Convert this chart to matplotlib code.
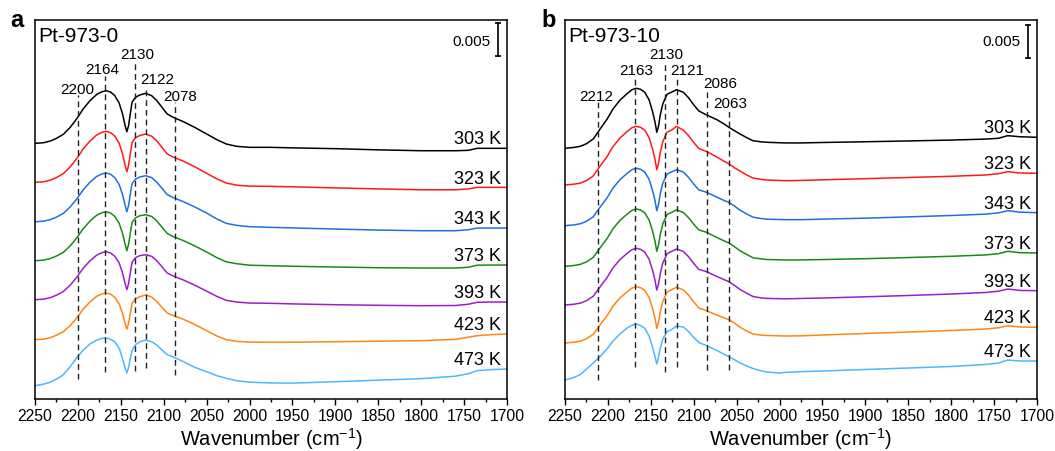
import numpy as np
import matplotlib.pyplot as plt
from matplotlib.ticker import MultipleLocator

plt.rcParams['font.family'] = ['Liberation Sans', 'DejaVu Sans']
plt.rcParams['mathtext.fontset'] = 'custom'
plt.rcParams['mathtext.rm'] = 'Liberation Sans'
plt.rcParams['mathtext.it'] = 'Liberation Sans:italic'

# Wavenumber grids (cm-1)
wn_a = [2250, 2240, 2232, 2225, 2217, 2209, 2201, 2194, 2186, 2178,
        2172, 2167, 2162, 2157, 2152, 2148, 2145, 2143, 2141, 2139,
        2137, 2133, 2128, 2121, 2114, 2108, 2102, 2096, 2089, 2077,
        2064, 2050, 2038, 2027, 2015, 2000, 1976, 1950, 1900, 1850,
        1800, 1760, 1745, 1735, 1720, 1700]
wn_b = [2250, 2240, 2232, 2225, 2217, 2209, 2201, 2194, 2186, 2178,
        2172, 2167, 2162, 2157, 2152, 2148, 2145, 2143, 2141, 2139,
        2136, 2131, 2126, 2120, 2112, 2106, 2100, 2094, 2085, 2073,
        2064, 2059, 2052, 2046, 2038, 2031, 2022, 2015, 2000, 1992,
        1976, 1950, 1900, 1850, 1800, 1760, 1745, 1734, 1720, 1700]

# Absorbance (1e-3 a.u.), relative to the first point of each trace
# Pt-973-0
a_303 = [0, 0.09, 0.35, 0.75, 1.35, 2.40, 3.75, 5.15, 6.39, 7.35,
         7.74, 7.89, 7.70, 7.14, 6.05, 4.40, 2.64, 1.74, 2.64, 4.40,
         6.15, 6.90, 7.25, 7.50, 7.14, 6.39, 5.40, 4.40, 3.90, 3.24,
         2.40, 1.40, 0.54, -0.11, -0.45, -0.60, -0.60, -0.68, -0.80, -0.98,
         -1.11, -1.11, -1.05, -0.75, -0.75, -0.75]
a_323 = [0, 0.09, 0.34, 0.73, 1.31, 2.33, 3.64, 5.00, 6.20, 7.13,
         7.51, 7.65, 7.47, 6.93, 5.87, 4.27, 2.56, 1.59, 2.56, 4.27,
         5.97, 6.69, 7.03, 7.25, 6.93, 6.20, 5.24, 4.27, 3.80, 3.18,
         2.35, 1.36, 0.52, -0.10, -0.42, -0.56, -0.60, -0.66, -0.83, -0.98,
         -1.11, -1.11, -0.98, -0.75, -0.75, -0.75]
a_343 = [0, 0.08, 0.32, 0.69, 1.25, 2.22, 3.47, 4.77, 5.92, 6.81,
         7.17, 7.31, 7.13, 6.61, 5.60, 4.07, 2.44, 1.50, 2.44, 4.07,
         5.69, 6.39, 6.71, 6.90, 6.61, 5.92, 5.00, 4.07, 3.61, 3.00,
         2.22, 1.30, 0.40, -0.25, -0.55, -0.75, -0.84, -0.93, -1.10, -1.25,
         -1.35, -1.35, -1.20, -0.95, -0.95, -0.95]
a_373 = [0, 0.08, 0.33, 0.70, 1.26, 2.23, 3.49, 4.79, 5.94, 6.84,
         7.20, 7.35, 7.16, 6.64, 5.63, 4.09, 2.46, 1.50, 2.46, 4.09,
         5.72, 6.42, 6.74, 6.90, 6.64, 5.94, 5.02, 4.09, 3.63, 3.01,
         2.23, 1.30, 0.45, -0.18, -0.45, -0.68, -0.75, -0.83, -0.95, -1.05,
         -1.10, -1.10, -0.98, -0.68, -0.65, -0.65]
a_393 = [0, 0.08, 0.32, 0.68, 1.23, 2.19, 3.42, 4.70, 5.83, 6.70,
         7.06, 7.20, 7.02, 6.51, 5.52, 4.01, 2.41, 1.50, 2.41, 4.01,
         5.61, 6.29, 6.61, 6.75, 6.51, 5.83, 4.92, 4.01, 3.56, 2.95,
         2.19, 1.28, 0.49, -0.10, -0.35, -0.50, -0.54, -0.63, -0.75, -0.84,
         -0.90, -0.87, -0.68, -0.39, -0.35, -0.35]
a_423 = [0, 0.08, 0.31, 0.67, 1.20, 2.13, 3.33, 4.57, 5.67, 6.53,
         6.87, 7.01, 6.84, 6.34, 5.37, 3.91, 2.40, 1.61, 2.40, 3.91,
         5.46, 6.13, 6.44, 6.71, 6.40, 5.70, 4.85, 4.00, 3.62, 3.05,
         2.30, 1.35, 0.55, 0.00, -0.25, -0.36, -0.39, -0.38, -0.30, -0.23,
         -0.15, 0.05, 0.38, 0.60, 0.75, 0.86]
a_473 = [0, 0.23, 0.53, 0.98, 1.65, 2.85, 4.26, 5.33, 6.26, 6.83,
         7.10, 7.16, 6.98, 6.57, 5.63, 4.05, 2.63, 1.91, 2.70, 4.13,
         5.25, 6.15, 6.57, 6.86, 6.60, 6.08, 5.33, 4.65, 4.32, 3.60,
         2.76, 2.10, 1.50, 1.10, 0.75, 0.53, 0.41, 0.38, 0.60, 0.83,
         1.05, 1.43, 1.80, 2.25, 2.40, 2.51]
# Pt-973-10
b_303 = [0, 0.12, 0.30, 0.68, 1.40, 2.90, 4.35, 5.90, 7.20, 8.15,
         8.78, 9.00, 8.85, 8.40, 7.28, 5.55, 3.90, 2.40, 3.30, 4.95,
         6.65, 8.10, 8.40, 8.79, 8.40, 7.58, 6.53, 5.60, 5.00, 4.29,
         3.60, 3.15, 2.60, 2.15, 1.58, 1.14, 0.98, 0.90, 0.83, 0.80,
         0.80, 0.87, 0.98, 1.10, 1.23, 1.38, 1.50, 1.89, 1.73, 1.65]
b_323 = [0, 0.12, 0.29, 0.66, 1.37, 2.84, 4.25, 5.77, 7.04, 7.97,
         8.59, 8.80, 8.66, 8.22, 7.12, 5.43, 3.81, 2.30, 3.23, 4.84,
         6.50, 7.92, 8.22, 8.80, 8.22, 7.41, 6.39, 5.48, 5.03, 4.20,
         3.52, 3.20, 2.54, 2.10, 1.50, 1.05, 0.85, 0.75, 0.68, 0.65,
         0.68, 0.78, 0.95, 1.13, 1.31, 1.50, 1.70, 2.00, 1.80, 1.76]
b_343 = [0, 0.11, 0.29, 0.65, 1.34, 2.78, 4.16, 5.65, 6.89, 7.80,
         8.40, 8.61, 8.47, 8.04, 6.97, 5.31, 3.73, 2.25, 3.16, 4.74,
         6.36, 7.75, 8.04, 8.40, 8.04, 7.25, 6.25, 5.36, 5.01, 4.28,
         3.75, 3.51, 2.90, 2.33, 1.75, 1.28, 1.08, 0.98, 0.92, 0.90,
         0.90, 0.98, 1.13, 1.32, 1.53, 1.73, 1.92, 2.25, 2.03, 1.95]
b_373 = [0, 0.11, 0.29, 0.65, 1.34, 2.77, 4.15, 5.63, 6.88, 7.78,
         8.38, 8.60, 8.45, 8.02, 6.95, 5.30, 3.72, 2.25, 3.15, 4.73,
         6.35, 7.78, 8.07, 8.45, 8.07, 7.30, 6.32, 5.45, 5.10, 4.32,
         3.78, 3.50, 2.90, 2.33, 1.76, 1.28, 1.12, 1.02, 0.97, 0.95,
         0.95, 1.01, 1.14, 1.31, 1.50, 1.70, 1.89, 2.25, 2.04, 2.00]
b_393 = [0, 0.11, 0.28, 0.64, 1.32, 2.74, 4.11, 5.58, 6.80, 7.70,
         8.30, 8.51, 8.36, 7.94, 6.88, 5.24, 3.69, 2.25, 3.12, 4.68,
         6.28, 7.70, 8.03, 8.40, 8.03, 7.25, 6.25, 5.35, 5.00, 4.28,
         3.78, 3.50, 2.90, 2.33, 1.76, 1.28, 1.08, 0.99, 0.95, 0.93,
         0.98, 1.05, 1.23, 1.43, 1.65, 1.88, 2.07, 2.40, 2.19, 2.15]
b_423 = [0, 0.11, 0.28, 0.64, 1.31, 2.72, 4.08, 5.53, 6.75, 7.64,
         8.24, 8.45, 8.30, 7.88, 6.83, 5.21, 3.66, 2.21, 3.10, 4.64,
         6.24, 7.65, 7.98, 8.36, 7.98, 7.18, 6.18, 5.25, 4.85, 4.20,
         3.75, 3.50, 2.95, 2.37, 1.80, 1.35, 1.20, 1.13, 1.08, 1.05,
         1.08, 1.20, 1.43, 1.65, 1.88, 2.10, 2.28, 2.60, 2.40, 2.36]
b_473 = [0, 0.35, 0.83, 1.62, 2.55, 3.53, 4.65, 5.85, 6.90, 7.76,
         8.22, 8.40, 8.18, 7.76, 6.60, 4.95, 3.45, 2.40, 3.45, 4.73,
         6.15, 7.28, 7.55, 8.10, 7.95, 7.28, 6.38, 5.63, 5.15, 4.43,
         3.83, 3.50, 3.00, 2.55, 2.10, 1.73, 1.40, 1.20, 1.05, 1.16,
         1.25, 1.35, 1.58, 1.80, 2.03, 2.33, 2.55, 3.00, 2.85, 2.85]

temps = ['303 K', '323 K', '343 K', '373 K', '393 K', '423 K', '473 K']
colors = ['#000000', '#ff1a1a', '#1f6fe0', '#178a17', '#9a1fc8', '#ff8514', '#4cb8ff']

# vertical stacking of the traces
offsets_a = [36.36, 30.5, 24.6, 18.75, 12.9, 6.9, 0.0]
offsets_b = [34.76, 29.25, 23.15, 17.06, 11.25, 5.55, 0.0]

# band marks: label text, where the dashed guide sits, its extent, label anchor
bands_a = ['2200', '2164', '2130', '2122', '2078']
guide_x_a = [2200, 2168, 2133, 2121, 2087]
guide_top_a = [43.6, 46.5, 48.5, 45.0, 42.5]
guide_bot_a = [1.0, 2.0, 2.2, 2.6, 1.6]
label_x_a = [2200.5, 2172, 2131, 2108, 2081]
label_y_a = [43.98, 46.9, 49.1, 45.4, 42.9]

bands_b = ['2212', '2163', '2130', '2121', '2086', '2063']
guide_x_b = [2211, 2168, 2133, 2119, 2084, 2059]
guide_top_b = [41.7, 45.45, 47.4, 45.45, 43.35, 40.35]
guide_bot_b = [0.0, 1.95, 1.2, 1.95, 1.5, 1.5]
label_x_b = [2213, 2166.5, 2131.5, 2108, 2069.4, 2057.7]
label_y_b = [42.05, 45.9, 48.26, 45.9, 43.9, 40.9]


def draw_panel(ax, wn, traces, offsets, bands, gx, gtop, gbot, lx, ly,
               title, ylim, bar_y0, bar_text_y):
    for y, off, c, t in zip(traces, offsets, colors, temps):
        y = np.asarray(y) + off
        ax.plot(wn, y, color=c, lw=1.1, solid_joinstyle='round')
        ax.annotate(t, xy=(wn[-1], y[-1]), xytext=(-4.5, 3.5),
                    textcoords='offset points', ha='right', va='baseline',
                    fontsize=13)

    for x, y0, y1 in zip(gx, gbot, gtop):
        ax.plot([x, x], [y0, y1], color='#222222', lw=1.0, ls=(0, (4.2, 2.8)))
    for s, x, y in zip(bands, lx, ly):
        ax.text(x, y, s, ha='center', va='baseline', fontsize=11)

    # 0.005 a.u. scale bar
    ax.plot([1710.5, 1710.5], [bar_y0, bar_y0 + 5], color='k', lw=1.2,
            marker='_', ms=5, mew=1.2)
    ax.text(1719.5, bar_text_y, '0.005', ha='right', va='baseline', fontsize=11)

    ax.text(0.007, 0.944, title, transform=ax.transAxes, ha='left',
            va='baseline', fontsize=15)

    ax.set_xlim(2250, 1700)
    ax.set_ylim(*ylim)
    ax.xaxis.set_major_locator(MultipleLocator(50))
    ax.xaxis.set_minor_locator(MultipleLocator(25))
    ax.tick_params(axis='x', which='major', direction='out', length=4.3,
                   width=1.0, labelsize=11.3, pad=2)
    ax.tick_params(axis='x', which='minor', direction='out', length=2.5, width=1.0)
    ax.set_yticks([])
    for sp in ax.spines.values():
        sp.set_linewidth(1.1)
    ax.set_xlabel('Wavenumber (cm$^{-1}$)', fontsize=14.5, labelpad=2)


fig = plt.figure(figsize=(10.55, 4.52), dpi=100)
ax_a = fig.add_axes([0.0332, 0.115, 0.4474, 0.8385])
ax_b = fig.add_axes([0.5355, 0.115, 0.4474, 0.8385])

draw_panel(ax_a, wn_a, [a_303, a_323, a_343, a_373, a_393, a_423, a_473], offsets_a,
           bands_a, guide_x_a, guide_top_a, guide_bot_a, label_x_a, label_y_a,
           'Pt-973-0', (-2.0, 54.86), 49.4, 51.15)
draw_panel(ax_b, wn_b, [b_303, b_323, b_343, b_373, b_393, b_423, b_473], offsets_b,
           bands_b, guide_x_b, guide_top_b, guide_bot_b, label_x_b, label_y_b,
           'Pt-973-10', (-2.85, 54.0), 48.3, 50.25)

fig.text(0.0095, 0.941, 'a', fontsize=17, fontweight='bold', ha='left', va='baseline')
fig.text(0.5135, 0.941, 'b', fontsize=17, fontweight='bold', ha='left', va='baseline')

fig.savefig('out.png', dpi=100)
